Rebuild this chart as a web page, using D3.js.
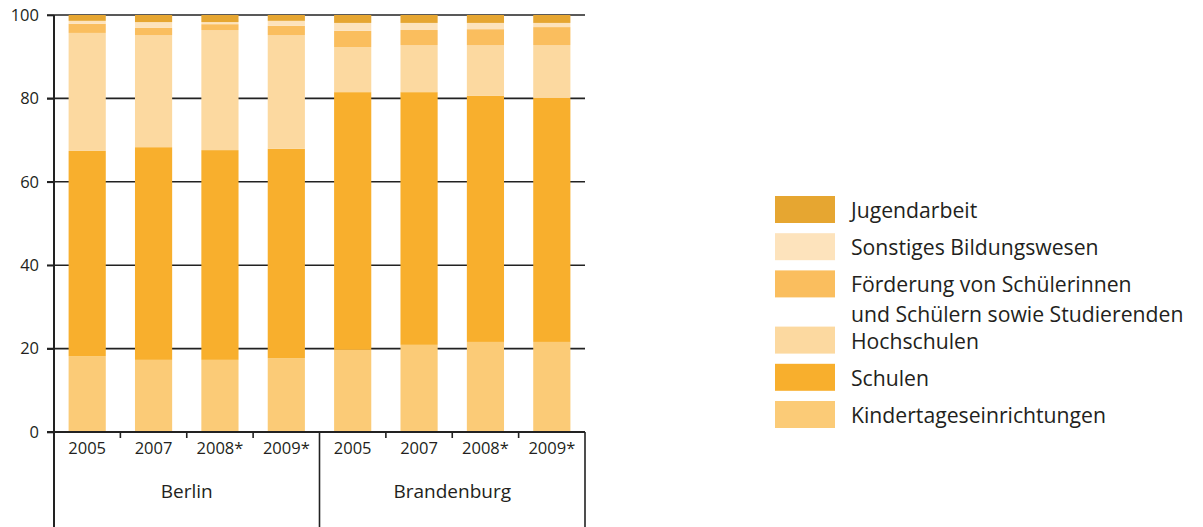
<!DOCTYPE html>
<html><head><meta charset="utf-8">
<script src="https://cdn.jsdelivr.net/npm/d3@7"></script>
<style>
body{margin:0;background:#fff;}
text{font-family:"Open Sans",sans-serif;fill:#231f20;}
</style></head>
<body><svg id="c" width="1203" height="527"></svg>
<script>
const groups = ["Berlin","Brandenburg"];
const years = ["2005","2007","2008*","2009*"];
const seriesNames = ["Kindertageseinrichtungen","Schulen","Hochschulen","Förderung von Schülerinnen und Schülern sowie Studierenden","Sonstiges Bildungswesen","Jugendarbeit"];
const seriesColors = ["#FBCB77","#F8AF2D","#FCD9A0","#FABE5E","#FDE3BC","#E6A631"];
// values per bar: Berlin 2005..2009*, Brandenburg 2005..2009*
const kita        = [18.2,17.3,17.3,17.7, 19.7,20.9,21.6,21.6];
const schulen     = [49.2,51.0,50.3,50.2, 61.8,60.6,59.0,58.5];
const hochschulen = [28.3,26.9,28.8,27.3, 10.8,11.3,12.2,12.7];
const foerderung  = [ 2.2, 1.7, 1.4, 2.2,  3.9, 3.6, 3.8, 4.3];
const sonstiges   = [ 0.7, 1.4, 0.5, 1.2,  1.9, 1.7, 1.5, 1.0];
const jugend      = [ 1.4, 1.7, 1.7, 1.4,  1.9, 1.9, 1.9, 1.9];
const yTicks = [0,20,40,60,80,100];
const legendOrder = [5,4,3,2,1,0];
const legendLines = [["Jugendarbeit"],["Sonstiges Bildungswesen"],["Förderung von Schülerinnen","und Schülern sowie Studierenden"],["Hochschulen"],["Schulen"],["Kindertageseinrichtungen"]];

const allSeries=[kita,schulen,hochschulen,foerderung,sonstiges,jugend];
const keys = [];
groups.forEach(g=>years.forEach(y=>keys.push(g+"|"+y)));
const rows = keys.map((k,i)=>{const r={key:k}; seriesNames.forEach((s,j)=>r[s]=allSeries[j][i]); return r;});

const svg=d3.select("#c");
const L=54,R=585,T=15,B=432;
const x=d3.scaleBand().domain(keys).range([L,R]).paddingInner(0.44).paddingOuter(0.22);
const y=d3.scaleLinear().domain([0,100]).range([B,T]);

// gridlines
svg.append("g").selectAll("line").data(yTicks.slice(1)).join("line")
  .attr("x1",L-7).attr("x2",R).attr("y1",d=>y(d)).attr("y2",d=>y(d))
  .attr("stroke","#222").attr("stroke-width",1.6);

const stack=d3.stack().keys(seriesNames)(rows);
svg.append("g").selectAll("g").data(stack).join("g")
  .attr("fill",(d,i)=>seriesColors[i])
  .selectAll("rect").data(d=>d).join("rect")
  .attr("x",d=>x(d.data.key)).attr("width",x.bandwidth())
  .attr("y",d=>y(d[1])).attr("height",d=>y(d[0])-y(d[1]));

// y axis
const ya=svg.append("g").attr("transform",`translate(${L},0)`)
  .call(d3.axisLeft(y).tickValues(yTicks).tickSize(7).tickPadding(8));
ya.select(".domain").remove();
ya.selectAll(".tick line").attr("stroke","#222").attr("stroke-width",1.6);
ya.selectAll("text").attr("font-size",16.5).attr("font-family","Open Sans").attr("fill","#231f20");
svg.append("line").attr("x1",L).attr("x2",L).attr("y1",T).attr("y2",527).attr("stroke","#222").attr("stroke-width",2);
svg.append("line").attr("x1",L-7).attr("x2",R).attr("y1",B).attr("y2",B).attr("stroke","#222").attr("stroke-width",2);

// x ticks & labels
const step=x.step();
svg.append("g").selectAll("line").data(keys).join("line")
  .attr("x1",d=>x(d)+x.bandwidth()/2+step/2).attr("x2",d=>x(d)+x.bandwidth()/2+step/2)
  .attr("y1",B).attr("y2",(d,i)=>(i%4===3)?527:438)
  .attr("stroke","#222").attr("stroke-width",1.6);
svg.append("g").selectAll("text").data(keys).join("text")
  .attr("x",d=>x(d)+x.bandwidth()/2).attr("y",454).attr("text-anchor","middle")
  .attr("font-size",16.5).text(d=>d.split("|")[1]);
svg.append("g").selectAll("text").data(groups).join("text")
  .attr("x",(g)=>{const a=x(g+"|"+years[0]), b=x(g+"|"+years[3])+x.bandwidth(); return (a+b)/2;})
  .attr("y",498).attr("text-anchor","middle").attr("font-size",19).text(d=>d);

// legend
const lg=svg.append("g");
legendOrder.forEach((si,i)=>{
  const top=196+i*37.2+(i>=3?19:0);
  lg.append("rect").attr("x",775).attr("y",top).attr("width",60).attr("height",27).attr("fill",seriesColors[si]);
  legendLines[i].forEach((t,k)=>{
    lg.append("text").attr("x",851).attr("y",top+22+k*30).attr("font-size",21.2).text(t);
  });
});
</script></body></html>
